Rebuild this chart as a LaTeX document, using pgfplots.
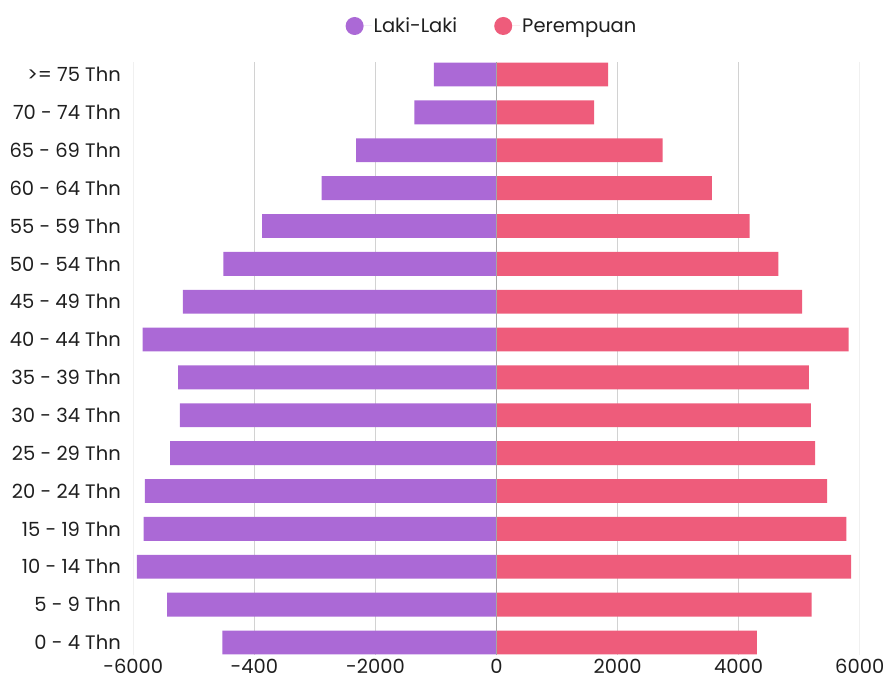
\documentclass[border=0pt]{standalone}
\usepackage{fontspec}
\setmainfont{Poppins}
\usepackage{pgfplots}
\pgfplotsset{compat=1.18}
\definecolor{laki}{HTML}{AB69D6}
\definecolor{prp}{HTML}{EE5C7B}
\definecolor{txt}{HTML}{1F1F1F}
\definecolor{zeroline}{HTML}{A6A6A6}
\begin{document}
\begin{tikzpicture}[x=1pt,y=1pt]
\path[use as bounding box] (0,0) rectangle (887,682);
\begin{axis}[
  at={(133.3pt,27pt)}, anchor=south west,
  scale only axis, width=726.4pt, height=593pt,
  xmin=-6000, xmax=6000, ymin=-0.33, ymax=15.33,
  xbar, bar width=0.63, bar shift=0pt,
  axis line style={draw=none}, major tick length=0pt,
  xtick={-4000,-2000,0,2000,4000},
  xticklabels={-400,-2000,0,2000,4000},
  extra x ticks={-6000,6000},
  extra x tick labels={-6000,6000},
  extra x tick style={grid style={gray!12, line width=1pt}},
  xmajorgrids, grid style={gray!35, line width=1pt},
  ytick={0,...,15},
  yticklabels={0 - 4 Thn,5 - 9 Thn,10 - 14 Thn,15 - 19 Thn,20 - 24 Thn,25 - 29 Thn,30 - 34 Thn,35 - 39 Thn,40 - 44 Thn,45 - 49 Thn,50 - 54 Thn,55 - 59 Thn,60 - 64 Thn,65 - 69 Thn,70 - 74 Thn,>= 75 Thn},
  tick label style={font=\fontsize{19.5}{21}\selectfont, text=txt},
  yticklabel style={xshift=-9pt},
  xticklabel style={inner sep=0pt, yshift=-3.5pt},
  legend style={draw=none, at={(0.5,1)}, anchor=center, yshift=36pt, xshift=-4.5pt,
    legend columns=2, font=\fontsize{19.5}{21}\selectfont, text=txt,
    /tikz/every even column/.append style={column sep=35pt}},
  legend image code/.code={\fill[#1] (0pt,0pt) circle (9pt); \path (9pt,0pt) -- (17pt,0pt);},
]
\addplot[fill=laki, draw=none] coordinates {
  (-4530,0) (-5440,1) (-5940,2) (-5830,3) (-5810,4) (-5390,5) (-5230,6) (-5260,7)
  (-5845,8) (-5180,9) (-4510,10) (-3870,11) (-2890,12) (-2320,13) (-1355,14) (-1035,15)
};
\addlegendentry{Laki-Laki}
\addplot[fill=prp, draw=none] coordinates {
  (4300,0) (5205,1) (5860,2) (5780,3) (5460,4) (5265,5) (5195,6) (5160,7)
  (5818,8) (5047,9) (4656,10) (4182,11) (3559,12) (2744,13) (1613,14) (1845,15)
};
\addlegendentry{Perempuan}
\draw[zeroline, line width=1.8pt] (axis cs:0,-0.33) -- (axis cs:0,15.33);
\end{axis}
\end{tikzpicture}
\end{document}
